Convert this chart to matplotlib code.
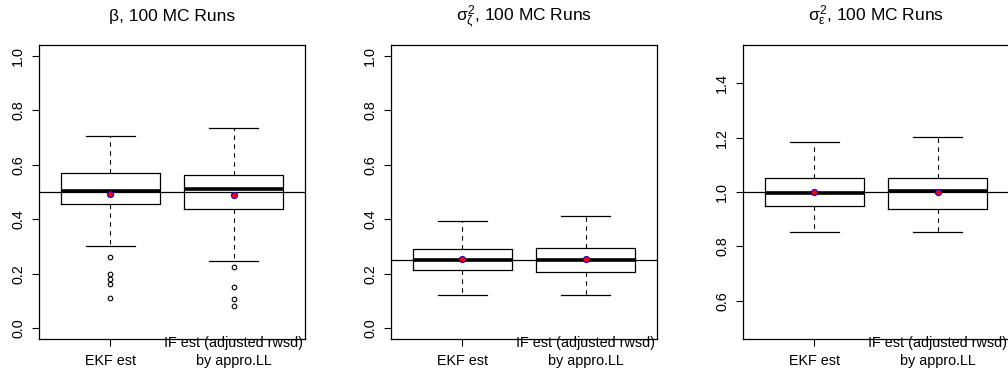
import matplotlib

matplotlib.use("Agg")
import matplotlib.pyplot as plt

plt.rcParams["font.family"] = ["Liberation Sans", "DejaVu Sans"]
plt.rcParams["mathtext.fontset"] = "custom"
plt.rcParams["mathtext.rm"] = "Liberation Sans"
plt.rcParams["mathtext.it"] = "Liberation Sans"

x_labels = ["EKF est", "IF est (adjusted rwsd)\nby appro.LL"]
titles = [
    "\u03b2, 100 MC Runs",
    r"$\sigma^2_\zeta$, 100 MC Runs",
    r"$\sigma^2_\varepsilon$, 100 MC Runs",
]
true_values = [0.5, 0.25, 1.0]
y_limits = [(0.0, 1.0), (0.0, 1.0), (0.5, 1.5)]
y_ticks = [
    [0.0, 0.2, 0.4, 0.6, 0.8, 1.0],
    [0.0, 0.2, 0.4, 0.6, 0.8, 1.0],
    [0.6, 0.8, 1.0, 1.2, 1.4],
]

# per panel: [EKF, IF]
whisker_lo = [[0.301, 0.247], [0.120, 0.120], [0.853, 0.853]]
q1 = [[0.455, 0.436], [0.212, 0.206], [0.947, 0.936]]
medians = [[0.505, 0.511], [0.251, 0.251], [0.997, 1.005]]
q3 = [[0.570, 0.563], [0.290, 0.293], [1.052, 1.051]]
whisker_hi = [[0.706, 0.734], [0.393, 0.412], [1.182, 1.203]]
means = [[0.491, 0.489], [0.255, 0.253], [1.000, 1.000]]
fliers = [
    [[0.261, 0.199, 0.181, 0.163, 0.109], [0.225, 0.151, 0.107, 0.081]],
    [[], []],
    [[], []],
]

W, H = 1008, 373
fig = plt.figure(figsize=(W / 100, H / 100), dpi=100)
lefts = [39, 391, 743]
ax_w, ax_top, ax_bot = 266, 45, 339

for i in range(3):
    ax = fig.add_axes([lefts[i] / W, (H - ax_bot) / H, ax_w / W, (ax_bot - ax_top) / H])
    stats = []
    for j in range(2):
        stats.append({
            "whislo": whisker_lo[i][j], "q1": q1[i][j], "med": medians[i][j],
            "q3": q3[i][j], "whishi": whisker_hi[i][j], "fliers": fliers[i][j],
        })
    ax.bxp(
        stats, positions=[1, 2], widths=0.8, patch_artist=False,
        boxprops=dict(color="black", lw=0.9),
        medianprops=dict(color="black", lw=2.6, solid_capstyle="butt"),
        whiskerprops=dict(color="black", lw=0.8, dashes=(4, 4)),
        capprops=dict(color="black", lw=0.9),
        capwidths=0.4,
        flierprops=dict(marker="o", ms=3.3, mfc="none", mec="black", mew=0.8),
    )
    ax.plot([1, 2], means[i], "o", color="blue", ms=4.2, zorder=5)
    ax.plot([1, 2], means[i], "D", color="red", ms=2.4, zorder=6)
    ax.axhline(true_values[i], color="black", lw=0.9)

    lo, hi = y_limits[i]
    pad = (hi - lo) * 0.04
    ax.set_ylim(lo - pad, hi + pad)
    ax.set_xlim(0.42, 2.58)
    ax.set_yticks(y_ticks[i])
    ax.set_yticklabels([f"{v:.1f}" for v in y_ticks[i]], rotation=90, va="center", fontsize=10.4)
    ax.set_xticks([1, 2])
    ax.set_xticklabels([])
    ax.tick_params(length=5, width=0.8, pad=5)
    for s in ax.spines.values():
        s.set_linewidth(0.9)

    for j, lab in enumerate(x_labels):
        lines = lab.split("\n")
        for k, line in enumerate(reversed(lines)):
            ax.annotate(line, xy=(j + 1, 0), xycoords=("data", "axes fraction"),
                        xytext=(0, -18.7 + 12.96 * k), textcoords="offset points",
                        ha="center", va="baseline", fontsize=10.4, annotation_clip=False)

    ax.set_title(titles[i], fontsize=12.5, pad=17)

fig.savefig("out.png", dpi=100)
